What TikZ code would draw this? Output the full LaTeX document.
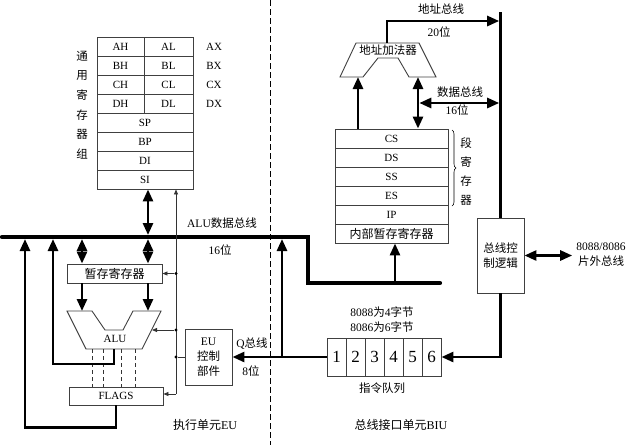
\documentclass[tikz,border=0pt]{standalone}
\usepackage{fontspec}
\setmainfont{Liberation Serif}
\newfontfamily\cjk{Noto Sans CJK SC}
\newcommand{\lat}[1]{{\rmfamily #1}}
\usetikzlibrary{arrows.meta, positioning, calc, decorations.pathreplacing}

\tikzset{
  regcell/.style={draw=black!75, line width=0.9pt, minimum height=19pt, inner sep=0pt, font=\fontsize{11}{13}\selectfont},
  unitbox/.style={draw=black!75, line width=0.9pt, inner sep=0pt, align=center, font=\cjk\fontsize{11.5}{15}\selectfont},
  txt/.style={inner sep=0pt, align=center, font=\cjk\fontsize{11.5}{15}\selectfont},
  reglabel/.style={inner sep=0pt, font=\fontsize{11}{13}\selectfont},
  shapeline/.style={draw=black!75, line width=0.9pt},
  databus/.style={line width=4.2pt},
  fat/.style={line width=2.7pt, >={Triangle[length=12pt, width=10pt]}},
  slim/.style={line width=0.8pt, black!80, >={Triangle[length=5pt, width=4pt]}},
  dot/.style={circle, fill, inner sep=0pt, minimum size=3.2pt},
}

\begin{document}
\begin{tikzpicture}[x=1pt, y=-1pt]
    \useasboundingbox (0,0) rectangle (635,445);

    % general registers
    \foreach \hi/\lo/\xr [count=\i from 0] in {AH/AL/AX, BH/BL/BX, CH/CL/CX, DH/DL/DX} {
        \node [regcell, minimum width=47pt] (h\i) at (120.5, {46.5+19*\i}) {\hi};
        \node [regcell, minimum width=49pt] (l\i) at (168.5, {46.5+19*\i}) {\lo};
        \node [reglabel] (x\i) at (214, {46.5+19*\i}) {\xr};
    }
    \foreach \r [count=\i from 4] in {SP, BP, DI, SI}
        \node [regcell, minimum width=96pt] (r\i) at (145, {46.5+19*\i}) {\r};
    \node [txt, font=\cjk\fontsize{11.5}{19.6}\selectfont] (gpr) at (82, 105) {通\\用\\寄\\存\\器\\组};

    % ALU data bus
    \coordinate (busL) at (2,237);
    \coordinate (busK) at (308,237);
    \coordinate (busM) at (308,283);
    \coordinate (busR) at (440,283);
    \coordinate (tA) at (25,237);
    \coordinate (tB) at (53,237);
    \coordinate (tC) at (82,237);
    \coordinate (tD) at (148,237);
    \coordinate (tQ) at (282,237);
    \coordinate (tI) at (395,283);
    \draw [databus, line cap=round] (busL) -- (busK) -- (busM) -- (busR);
    \node [txt] (alubus) at (222,223) {\lat{ALU}数据总线};
    \node [txt] (alubw) at (220,250) {\lat{16}位};

    % execution unit
    \node [unitbox, minimum width=95pt, minimum height=19pt, font=\cjk\fontsize{12}{14}\selectfont] (tmp) at (114.5,273.5) {暂存寄存器};
    \draw [fat, <->, shorten >=2pt] (r7.south -| tD) -- (tD);
    \draw [fat, <->, shorten <=2pt] (tC) -- (tC |- tmp.north);
    \draw [fat, <->, shorten <=2pt] (tD) -- (tD |- tmp.north);

    \coordinate (aluA) at (82,311);
    \coordinate (aluB) at (148,311);
    \coordinate (aluR) at (152,330);
    \coordinate (aluOut) at (114,349);
    \draw [shapeline] (67,311) -- (92,311) -- (105,330) -- (123,330) -- (133,311) -- (161,311) -- (142,349) -- (86,349) -- cycle;
    \node [reglabel] (alu) at (115,339) {ALU};
    \draw [fat, ->] (tmp.south -| aluA) -- (aluA);
    \draw [fat, ->] (tmp.south -| aluB) -- (aluB);

    \node [regcell, minimum width=94pt, minimum height=18pt] (flags) at (116,396) {FLAGS};
    \foreach \x in {92,103,121,135}
        \draw [dashed, dash pattern=on 4pt off 3pt, black!80, line width=0.8pt] (\x,349) -- (\x,387);
    \draw [fat, ->, shorten >=2pt] (aluOut) -- ++(0,15) -| (tB);
    \draw [fat, ->, shorten >=2pt] (flags.south) -- ++(0,22) -| (tA);

    \node [unitbox, minimum width=47pt, minimum height=56pt] (eu) at (208.5,357) {\lat{EU}\\控制\\部件};

    % control lines
    \coordinate (cLow) at (176,394);
    \draw [slim, ->] (cLow) -- (cLow |- r7.south);
    \node [dot] (d1) at (cLow |- tmp.east) {};
    \node [dot] (d2) at (cLow |- aluR) {};
    \node [dot] (d3) at (cLow |- eu.west) {};
    \draw [slim, ->] (d1) -- (tmp.east);
    \draw [slim, ->] (d2) -- (aluR);
    \draw [slim, ->] (cLow) -- (flags.east |- cLow);
    \draw [slim] (eu.west) -- (d3);

    % instruction queue
    \foreach \n in {1,...,6}
        \node [regcell, minimum width=19pt, minimum height=38pt, font=\fontsize{17}{17}\selectfont] (q\n) at ({317.5+19*\n}, 357) {\n};
    \node [txt] (qnote) at (382,319.5) {\lat{8088}为\lat{4}字节\\\lat{8086}为\lat{6}字节};
    \node [txt] (qname) at (382,388) {指令队列};

    \coordinate (qJ) at (282,357);
    \draw [fat, ->] (q1.west) -- (eu.east);
    \draw [fat, ->, shorten >=2pt] (qJ) -- (tQ);
    \node [txt] (qlab) at (252,344) {\lat{Q}总线};
    \node [txt] (qw) at (251,371) {\lat{8}位};

    % EU / BIU split
    \draw [dashed, dash pattern=on 6pt off 3pt, line width=0.8pt] (270,0) -- (270,445);
    \node [txt, font=\cjk\fontsize{12}{14}\selectfont] (eulab) at (205,425) {执行单元\lat{EU}};
    \node [txt, font=\cjk\fontsize{12}{14}\selectfont] (biulab) at (401,425) {总线接口单元\lat{BIU}};

    % segment registers
    \foreach \s [count=\i from 0] in {CS, DS, SS, ES, IP}
        \node [regcell, minimum width=113pt] (s\i) at (391.5, {138.5+19*\i}) {\s};
    \node [regcell, minimum width=113pt, font=\cjk\fontsize{12}{14}\selectfont] (ibuf) at (391.5, 233.5) {内部暂存寄存器};
    \draw [fat, ->, shorten <=2pt] (tI) -- (ibuf.south -| tI);
    \draw [decorate, decoration={brace, amplitude=4pt}, line width=0.6pt] (452,130) -- (452,206);
    \node [txt, font=\cjk\fontsize{11.5}{19}\selectfont] (seglab) at (466,171.5) {段\\寄\\存\\器};

    % address adder
    \coordinate (aIn) at (358,77);
    \coordinate (dIn) at (418,77);
    \coordinate (aOut) at (387,43);
    \draw [shapeline] (356,43) -- (419,43) -- (436,77) -- (409,77) -- (398,58) -- (378,58) -- (363,77) -- (340,77) -- cycle;
    \node [txt] (adder) at (388,50) {地址加法器};
    \draw [fat, ->] (s0.north -| aIn) -- (aIn);
    \draw [fat, <->] (s0.north -| dIn) -- (dIn);

    % bus control logic
    \node [unitbox, minimum width=47pt, minimum height=75pt] (bcl) at (500.5,255.5) {总线控\\制逻辑};
    \coordinate (vTop) at (500.5,12);
    \coordinate (aTap) at (500.5,21);
    \coordinate (dTap) at (500.5,103);
    \draw [fat] (vTop) -- (bcl.north);
    \draw [fat, ->, shorten >=1.3pt] (aOut) |- (aTap);
    \draw [fat, <->, shorten <=1.3pt, shorten >=1.3pt] (dIn |- dTap) -- (dTap);
    \node [txt] (abus) at (441,9) {地址总线};
    \node [txt] (abw) at (439,32) {\lat{20}位};
    \node [txt] (dbus) at (460,92) {数据总线};
    \node [txt] (dbw) at (457,110) {\lat{16}位};
    \draw [fat, ->] (bcl.south) |- (q6.east);

    \node [txt] (ext) at (601,254.5) {\lat{8088/8086}\\片外总线};
    \draw [fat, <->, shorten >=4pt] (bcl.east) -- (bcl.east -| ext.west);
\end{tikzpicture}
\end{document}
